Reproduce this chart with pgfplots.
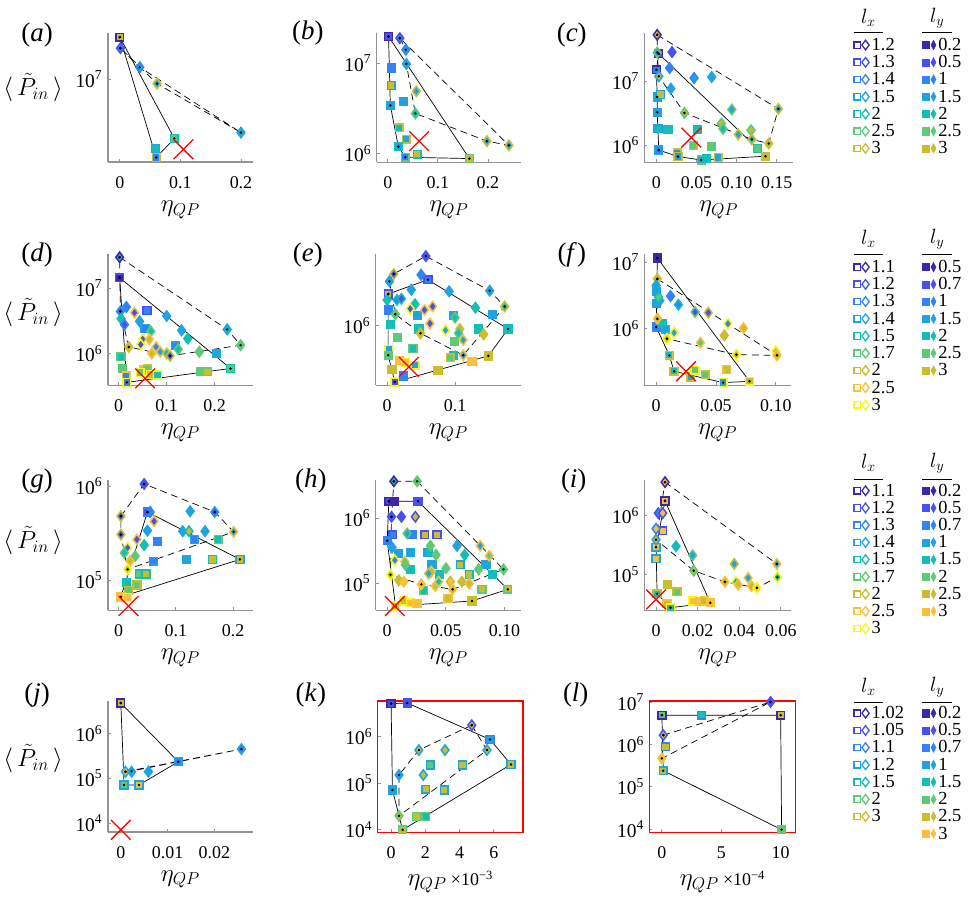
\documentclass[border=0pt]{standalone}
\usepackage{pgfplots}
\pgfplotsset{compat=1.18}
\usepackage{fontspec}
\setmainfont{Liberation Serif}

\definecolor{P1}{HTML}{3E26A8}
\definecolor{P2}{HTML}{4A50F0}
\definecolor{P3}{HTML}{3282F8}
\definecolor{P4}{HTML}{20A4E0}
\definecolor{P5}{HTML}{14BEB6}
\definecolor{P6}{HTML}{5ECA78}
\definecolor{P7}{HTML}{C8BE2E}
\definecolor{P8}{HTML}{FBC03A}
\definecolor{P9}{HTML}{F9F914}

\pgfplotsset{
  every axis/.append style={scale only axis, width=146pt, height=130pt, anchor=south west,
    clip=false, scaled x ticks=false,
    axis x line*=bottom, axis y line*=left,
    axis line style={draw=gray!85, line width=1.6pt},
    tick align=inside, major tick length=3pt, tick style={gray!85, line width=0.8pt},
    yminorticks=false, xminorticks=false,
    xticklabel style={font=\fontsize{18}{20}\selectfont, yshift=-11pt},
    yticklabel style={font=\fontsize{19.5}{21}\selectfont, xshift=-2pt},
    xlabel={$\eta_{QP}$},
    label style={font=\fontsize{26}{28}\selectfont},
    xlabel style={yshift=-5pt}},
  psq/.style={only marks, scatter, mark=square*, mark size=3.9pt, line width=1.5pt,
    visualization depends on={value \thisrow{e}\as\ecol},
    visualization depends on={value \thisrow{f}\as\fcol},
    scatter/@pre marker code/.code={\begin{scope}[draw=P\ecol,fill=P\fcol]},
    scatter/@post marker code/.code={\end{scope}}},
  pdi/.style={psq, mark=diamond*, mark size=5.2pt},
  hsolid/.style={black, line width=0.7pt, mark=*, mark size=0.9pt, mark options={solid}},
  hdash/.style={hsolid, dash pattern=on 7pt off 4.5pt},
  redx/.style={only marks, mark=x, mark size=14pt, red, line width=1.3pt},
  lximg/.style={legend image code/.code={
    \draw[#1, line width=1.3pt] (0.5pt,-3.2pt) rectangle (6.9pt,3.2pt);
    \draw[#1, line width=1.3pt] (12pt,4.8pt) -- (15.6pt,0pt) -- (12pt,-4.8pt) -- (8.4pt,0pt) -- cycle;}},
  lyimg/.style={legend image code/.code={
    \fill[#1] (0pt,-3.6pt) rectangle (7.2pt,3.6pt);
    \fill[#1] (11.2pt,4.8pt) -- (13.8pt,0pt) -- (11.2pt,-4.8pt) -- (8.6pt,0pt) -- cycle;}},
  leg/.style={hide axis, width=1pt, height=1pt,
    xmin=0, xmax=1, ymin=0, ymax=1, anchor=north west,
    legend cell align=left,
    legend style={at={(0,1)}, anchor=north west, draw=none, fill=none,
      inner sep=0pt, row sep=0pt, font=\fontsize{18.5}{20}\selectfont,
      nodes={inner xsep=2pt, inner ysep=0pt, text height=14pt, text depth=3.3pt}}},
}

\begin{document}
\begin{tikzpicture}
\path (0,0) rectangle (974pt,-910pt);

% panel letters and y labels
\foreach \t/\x/\y in {a/33/35, b/305/33, c/570/35, d/33/256, e/305/256, f/570/256,
    g/33/483, h/308/483, i/572/483, j/33/698, k/308/698, l/574/698}
  \node[font=\fontsize{27}{30}\selectfont] at (\x pt,-\y pt) {(\textit{\t})};
\foreach \y in {88, 314, 543, 762}
  \node[font=\fontsize{26}{28}\selectfont] at (29pt,-\y pt) {$\langle\,\tilde{P}_{in}\,\rangle$};

% (a)
\begin{axis}[ymode=log, at={(104pt,-163pt)},
  xmin=-0.02, xmax=0.22, ymin=2.27e6, ymax=2.27e7,
  xtick={0,0.1,0.2}, xticklabels={0,0.1,0.2},
  ytick={1e7}, yticklabels={10\textsuperscript{7}}]
\addplot[psq] table[row sep=\\] {x y e f\\
0 2.1e7 1 7\\ 0.09 3.47e6 5 6\\ 0.059 2.9e6 4 5\\ 0.06 2.47e6 7 3\\};
\addplot[pdi] table[row sep=\\] {x y e f\\
0.001 1.73e7 2 3\\ 0.033 1.23e7 3 4\\ 0.0614 9.2e6 7 4\\ 0.2 3.85e6 4 5\\};
\addplot[hsolid] coordinates {(0,2.1e7)(0.06,2.47e6)(0.09,3.47e6)(0,2.1e7)};
\addplot[hdash] coordinates {(0.001,1.73e7)(0.033,1.23e7)(0.2,3.85e6)(0.0614,9.2e6)(0.001,1.73e7)};
\addplot[redx] coordinates {(0.105,2.86e6)};
\end{axis}

% (b)
\begin{axis}[ymode=log, at={(374pt,-163pt)}, width=145pt,
  xmin=-0.0225, xmax=0.266, ymin=8.0e5, ymax=2.15e7,
  xtick={0,0.1,0.2}, xticklabels={0,0.1,0.2},
  ytick={1e6,1e7}, yticklabels={10\textsuperscript{6},10\textsuperscript{7}}]
\addplot[psq] table[row sep=\\] {x y e f\\
0.0014 1.96e7 1 2\\ 0.007 8.8e6 3 3\\ 0.007 5.64e6 4 7\\ 0.031 3.78e6 4 4\\
0.005 3.4e6 4 4\\ 0.023 1.93e6 7 5\\ 0.037 1.44e6 7 4\\ 0.021 1.19e6 5 4\\
0.035 9.1e5 6 3\\ 0.059 9.8e5 5 7\\ 0.163 8.8e5 6 7\\};
\addplot[pdi] table[row sep=\\] {x y e f\\
0.024 1.88e7 2 3\\ 0.036 1.4e7 3 4\\ 0.037 9.75e6 4 4\\ 0.057 4.88e6 7 4\\
0.055 2.77e6 6 5\\ 0.198 1.37e6 7 4\\ 0.242 1.23e6 7 4\\};
\addplot[hsolid] coordinates {(0.0014,1.96e7)(0.005,3.4e6)(0.021,1.19e6)(0.035,9.1e5)(0.163,8.8e5)(0.0014,1.96e7)};
\addplot[hdash] coordinates {(0.024,1.88e7)(0.036,1.4e7)(0.037,9.75e6)(0.055,2.77e6)(0.198,1.37e6)(0.242,1.23e6)(0.024,1.88e7)};
\addplot[redx] coordinates {(0.0625,1.37e6)};
\end{axis}

% (c)
\begin{axis}[ymode=log, at={(643pt,-163pt)}, width=149pt,
  xmin=-0.0149, xmax=0.170, ymin=5.37e5, ymax=5.77e7,
  xtick={0,0.05,0.1,0.15}, xticklabels={0,0.05,0.10,0.15},
  ytick={1e6,1e7}, yticklabels={10\textsuperscript{6},10\textsuperscript{7}}]
\addplot[psq] table[row sep=\\] {x y e f\\
0.003 2.71e7 1 2\\ 0.0 1.52e7 1 3\\ 0.001 5.7e6 4 4\\ 0.005 6.2e6 4 7\\
0.001 3.28e6 4 4\\ 0.002 1.8e6 4 5\\ 0.0145 1.76e6 5 5\\ 0.051 1.76e6 5 5\\
0.046 9.9e5 7 6\\ 0.069 9.6e5 6 6\\ 0.003 8.35e5 4 3\\ 0.026 7.6e5 7 3\\
0.027 6.6e5 7 4\\ 0.056 5.83e5 6 4\\ 0.0626 6.1e5 5 5\\ 0.077 6.36e5 7 4\\
0.126 8.8e5 5 6\\ 0.136 6.7e5 7 7\\};
\addplot[pdi] table[row sep=\\] {x y e f\\
0.001 5.37e7 1 7\\ 0.001 2.84e7 6 4\\ 0.0195 2.88e7 2 2\\ 0.0165 1.62e7 3 3\\
0.003 1.2e7 4 7\\ 0.047 1.13e7 3 4\\ 0.069 1.17e7 4 4\\ 0.018 7.7e6 4 4\\
0.035 3.2e6 6 7\\ 0.094 3.61e6 6 4\\ 0.152 3.7e6 7 4\\ 0.081 2.18e6 6 7\\
0.083 1.8e6 6 5\\ 0.102 1.47e6 7 4\\ 0.118 1.71e6 6 7\\ 0.119 1.23e6 7 5\\
0.14 1.06e6 7 7\\};
\addplot[hsolid] coordinates {(0.003,2.71e7)(0.0,1.52e7)(0.001,5.7e6)(0.001,3.28e6)(0.003,8.35e5)(0.027,6.6e5)(0.056,5.83e5)(0.136,6.7e5)(0.003,2.71e7)};
\addplot[hdash] coordinates {(0.001,5.37e7)(0.152,3.7e6)(0.14,1.06e6)(0.119,1.23e6)(0.035,3.2e6)(0.003,1.2e7)(0.001,2.84e7)(0.001,5.37e7)};
\addplot[redx] coordinates {(0.0435,1.31e6)};
\end{axis}

% (d)
\begin{axis}[ymode=log, at={(104pt,-387pt)}, height=132pt,
  xmin=-0.0228, xmax=0.28, ymin=3.26e5, ymax=3.33e7,
  xtick={0,0.1,0.2}, xticklabels={0,0.1,0.2},
  ytick={1e6,1e7}, yticklabels={10\textsuperscript{6},10\textsuperscript{7}}]
\addplot[psq] table[row sep=\\] {x y e f\\
0.002 1.44e7 2 1\\ 0.059 4.56e6 2 3\\ 0.055 2.4e6 4 3\\ 0.118 1.31e6 4 3\\
0.204 1.0e6 5 4\\ 0.005 8.9e5 6 5\\ 0.008 5.9e5 6 6\\ 0.016 4.58e5 8 3\\
0.017 3.62e5 9 3\\ 0.052 5.57e5 8 7\\ 0.060 5.77e5 7 6\\ 0.045 5.14e5 9 6\\
0.066 4.79e5 9 7\\ 0.081 4.68e5 9 5\\ 0.17 5.26e5 6 6\\ 0.185 5.26e5 6 7\\
0.233 5.91e5 5 6\\};
\addplot[pdi] table[row sep=\\] {x y e f\\
0.002 2.96e7 1 5\\ 0.016 5.14e6 3 3\\ 0.0035 4.4e6 4 2\\ 0.033 4.2e6 8 2\\
0.005 3.41e6 5 5\\ 0.012 2.76e6 3 2\\ 0.0436 3.1e6 4 4\\ 0.1 3.75e6 4 4\\
0.067 2.18e6 6 5\\ 0.131 2.26e6 4 4\\ 0.144 1.69e6 5 5\\ 0.226 2.34e6 4 5\\
0.254 1.34e6 6 6\\ 0.05 1.65e6 9 2\\ 0.046 1.37e6 9 2\\ 0.064 1.65e6 8 7\\
0.078 1.26e6 8 3\\ 0.021 1.26e6 7 7\\ 0.069 1.0e6 8 7\\ 0.0865 1.06e6 8 4\\
0.1 1.0e6 7 5\\ 0.107 9.2e5 7 2\\ 0.124 1.16e6 6 5\\ 0.168 1.06e6 6 6\\};
\addplot[hsolid] coordinates {(0.002,1.44e7)(0.017,3.62e5)(0.233,5.91e5)(0.002,1.44e7)};
\addplot[hdash] coordinates {(0.002,2.96e7)(0.226,2.34e6)(0.254,1.34e6)(0.107,9.2e5)(0.021,1.26e6)(0.0035,4.4e6)(0.002,2.96e7)};
\addplot[redx] coordinates {(0.055,4.16e5)};
\end{axis}

% (e)
\begin{axis}[ymode=log, at={(373pt,-387pt)}, height=132pt,
  xmin=-0.017, xmax=0.197, ymin=2.55e5, ymax=5.16e6,
  xtick={0,0.1}, xticklabels={0,0.1},
  ytick={1e6}, yticklabels={10\textsuperscript{6}}]
\addplot[psq] table[row sep=\\] {x y e f\\
0.060 2.86e6 2 3\\ 0.0015 2.06e6 2 7\\ 0.0015 1.43e6 3 3\\ 0.045 1.26e6 4 4\\
0.098 1.26e6 4 4\\ 0.155 1.28e6 4 4\\ 0.005 1.03e6 5 5\\ 0.047 9.25e5 5 5\\
0.134 9.25e5 5 5\\ 0.178 9.25e5 5 5\\ 0.015 7.64e5 6 6\\ 0.099 7.0e5 6 6\\
0.038 5.93e5 6 5\\ 0.0025 5.83e5 9 4\\ 0.0015 5.08e5 6 6\\ 0.098 5.08e5 5 5\\
0.093 4.79e5 7 6\\ 0.149 5.0e5 7 7\\ 0.125 4.43e5 8 8\\ 0.018 4.53e5 8 8\\
0.027 4.3e5 9 8\\ 0.041 4.04e5 9 4\\ 0.0073 3.68e5 7 7\\ 0.075 3.6e5 7 7\\
0.0245 3.16e5 3 3\\ 0.0113 2.75e5 9 2\\};
\addplot[pdi] table[row sep=\\] {x y e f\\
0.057 4.9e6 2 2\\ 0.0098 3.26e6 7 2\\ 0.0034 2.75e6 4 4\\ 0.050 3.2e6 3 3\\
0.0356 2.27e6 4 4\\ 0.0912 2.19e6 4 4\\ 0.151 2.22e6 4 4\\ 0.0 1.8e6 5 5\\
0.0146 1.8e6 5 3\\ 0.021 1.85e6 5 2\\ 0.041 1.63e6 5 5\\ 0.034 1.47e6 9 2\\
0.055 1.43e6 8 2\\ 0.067 1.55e6 8 2\\ 0.130 1.51e6 5 5\\ 0.173 1.55e6 7 5\\
0.012 1.3e6 6 6\\ 0.1 1.2e6 6 5\\ 0.063 1.05e6 8 2\\ 0.049 8.4e5 7 7\\
0.086 9.0e5 9 4\\ 0.107 9.25e5 7 7\\ 0.105 8.4e5 6 5\\ 0.112 7.2e5 8 4\\
0.142 8.2e5 7 7\\ 0.112 5.08e5 8 4\\};
\addplot[hsolid] coordinates {(0.0015,2.06e6)(0.060,2.86e6)(0.178,9.25e5)(0.149,5.0e5)(0.0113,2.75e5)(0.0015,5.08e5)(0.0015,2.06e6)};
\addplot[hdash] coordinates {(0.0034,2.75e6)(0.0098,3.26e6)(0.057,4.9e6)(0.151,2.22e6)(0.173,1.55e6)(0.112,5.08e5)(0.049,8.4e5)(0.012,1.3e6)(0.0034,2.75e6)};
\addplot[redx] coordinates {(0.032,3.89e5)};
\end{axis}

% (f)
\begin{axis}[ymode=log, at={(643pt,-387pt)}, height=132pt, width=147pt,
  xmin=-0.0098, xmax=0.1125, ymin=1.41e5, ymax=1.33e7,
  xtick={0,0.05,0.1}, xticklabels={0,0.05,0.10},
  ytick={1e6,1e7}, yticklabels={10\textsuperscript{6},10\textsuperscript{7}}]
\addplot[psq] table[row sep=\\] {x y e f\\
0.001 1.15e7 1 1\\ 0.0 3.62e6 4 4\\ 0.0 2.37e6 4 4\\ 0.0 1.06e6 3 3\\
0.005 1.19e6 5 5\\ 0.008 9.77e5 5 4\\ 0.011 3.98e5 7 5\\ 0.015 2.29e5 7 5\\
0.029 1.89e5 7 4\\ 0.0325 2.37e5 9 6\\ 0.041 2.04e5 7 6\\ 0.059 2.43e5 8 7\\
0.056 1.55e5 9 4\\ 0.078 1.62e5 9 7\\};
\addplot[pdi] table[row sep=\\] {x y e f\\
0.001 5.62e6 7 7\\ 0.0 4.46e6 4 4\\ 0.003 2.65e6 4 4\\ 0.002 2.98e6 5 6\\
0.012 3.09e6 3 3\\ 0.0186 2.29e6 5 3\\ 0.0325 1.78e6 6 2\\ 0.0436 1.74e6 7 2\\
0.001 1.41e6 8 7\\ 0.015 8.7e5 9 4\\ 0.009 7.08e5 9 7\\ 0.037 6.17e5 8 6\\
0.06 1.19e6 9 3\\ 0.057 7.94e5 7 7\\ 0.073 1.02e6 8 7\\ 0.067 4.07e5 9 7\\
0.1 4.57e5 9 7\\ 0.101 3.98e5 8 7\\};
\addplot[hsolid] coordinates {(0.001,1.15e7)(0.0,1.06e6)(0.011,3.98e5)(0.015,2.29e5)(0.056,1.55e5)(0.078,1.62e5)(0.001,1.15e7)};
\addplot[hdash] coordinates {(0.001,5.62e6)(0.101,3.98e5)(0.067,4.07e5)(0.009,7.08e5)(0.001,1.41e6)(0.001,5.62e6)};
\addplot[redx] coordinates {(0.025,2.29e5)};
\end{axis}

% (g)
\begin{axis}[ymode=log, at={(104pt,-613pt)}, height=131pt,
  xmin=-0.019, xmax=0.235, ymin=4.79e4, ymax=1.17e6,
  xtick={0,0.1,0.2}, xticklabels={0,0.1,0.2},
  ytick={1e5,1e6}, yticklabels={10\textsuperscript{5},10\textsuperscript{6}}]
\addplot[psq] table[row sep=\\] {x y e f\\
0.0504 5.33e5 3 2\\ 0.132 2.72e5 4 3\\ 0.174 2.72e5 6 5\\ 0.068 2.57e5 3 3\\
0.061 1.6e5 4 3\\ 0.118 1.67e5 4 4\\ 0.164 1.67e5 5 7\\ 0.212 1.67e5 4 7\\
0.0365 1.17e5 5 6\\ 0.048 1.17e5 5 7\\ 0.0134 9.4e4 5 5\\ 0.032 8.9e4 7 6\\
0.0174 7.8e4 7 6\\ 0.004 6.66e4 8 8\\ 0.0157 6.55e4 9 8\\};
\addplot[pdi] table[row sep=\\] {x y e f\\
0.0447 1.06e6 2 2\\ 0.004 4.81e5 7 2\\ 0.004 3.07e5 7 2\\ 0.055 5.33e5 3 3\\
0.062 4.25e5 8 2\\ 0.0504 3.38e5 4 4\\ 0.125 5.43e5 4 4\\ 0.168 5.33e5 4 2\\
0.112 3.33e5 4 4\\ 0.123 3.33e5 5 7\\ 0.151 3.33e5 4 4\\ 0.201 3.28e5 8 4\\
0.032 2.72e5 8 2\\ 0.0447 2.37e5 5 5\\ 0.0157 2.22e5 9 2\\ 0.01 1.96e5 6 5\\
0.029 1.81e5 6 6\\ 0.02 1.6e5 8 7\\ 0.0157 1.31e5 9 7\\};
\addplot[hsolid] coordinates {(0.0504,5.33e5)(0.212,1.67e5)(0.004,6.66e4)(0.0504,5.33e5)};
\addplot[hdash] coordinates {(0.004,4.81e5)(0.0447,1.06e6)(0.168,5.33e5)(0.201,3.28e5)(0.0157,1.31e5)(0.004,3.07e5)(0.004,4.81e5)};
\addplot[redx] coordinates {(0.0174,5.33e4)};
\end{axis}

% (h)
\begin{axis}[ymode=log, at={(373pt,-613pt)}, height=131pt,
  xmin=-0.0099, xmax=0.114, ymin=3.85e4, ymax=3.85e6,
  xtick={0,0.05,0.1}, xticklabels={0,0.05,0.10},
  ytick={1e5,1e6}, yticklabels={10\textsuperscript{5},10\textsuperscript{6}}]
\addplot[psq] table[row sep=\\] {x y e f\\
0.0014 1.81e6 1 2\\ 0.0057 1.81e6 1 1\\ 0.0263 1.81e6 2 2\\ 0.0048 5.56e5 2 3\\
0.0212 5.56e5 3 3\\ 0.032 5.56e5 2 7\\ 0.0425 5.56e5 2 7\\ 0.0 4.49e5 3 3\\
0.0099 2.86e5 4 4\\ 0.0198 2.97e5 4 4\\ 0.0348 2.97e5 4 5\\ 0.0382 1.92e5 4 4\\
0.0623 1.92e5 4 7\\ 0.0841 1.92e5 4 4\\ 0.0198 1.64e5 5 5\\ 0.0444 1.35e5 5 5\\
0.0699 1.37e5 5 7\\ 0.0898 1.35e5 5 5\\ 0.0312 7.8e4 6 5\\ 0.0807 8.09e4 6 7\\
0.1028 8.09e4 6 7\\ 0.0518 5.87e4 8 7\\ 0.0722 5.36e4 7 7\\ 0.0142 5.36e4 9 7\\
0.0198 5.05e4 9 8\\ 0.0255 4.87e4 8 8\\ 0.0071 4.49e4 9 7\\};
\addplot[pdi] table[row sep=\\] {x y e f\\
0.0057 3.67e6 1 5\\ 0.0255 3.67e6 6 6\\ 0.0037 1.05e6 2 2\\ 0.0121 1.05e6 2 2\\
0.024 1.05e6 2 7\\ 0.017 5.82e5 6 4\\ 0.0042 3.54e5 4 4\\ 0.0368 3.76e5 6 6\\
0.0595 3.76e5 4 4\\ 0.0793 3.76e5 8 4\\ 0.0416 2.73e5 6 6\\ 0.066 2.73e5 5 5\\
0.087 2.64e5 8 6\\ 0.0065 2.26e5 9 3\\ 0.015 2.16e5 8 6\\ 0.0155 1.92e5 6 6\\
0.0501 1.7e5 6 6\\ 0.0779 1.64e5 6 6\\ 0.0991 1.64e5 6 6\\ 0.0376 1.51e5 8 7\\
0.0354 1.41e5 7 4\\ 0.0028 1.35e5 9 7\\ 0.0099 1.11e5 7 7\\ 0.0142 1.06e5 8 8\\
0.0291 9.66e4 8 8\\ 0.041 9.12e4 8 7\\ 0.0439 1.06e5 8 5\\ 0.0538 1.06e5 7 8\\
0.0558 8.09e4 8 7\\ 0.0637 1.06e5 7 7\\ 0.0699 9.89e4 8 7\\};
\addplot[hsolid] coordinates {(0.0014,1.81e6)(0.0263,1.81e6)(0.1028,8.09e4)(0.0722,5.36e4)(0.0071,4.49e4)(0.0,4.49e5)(0.0014,1.81e6)};
\addplot[hdash] coordinates {(0.0057,3.67e6)(0.0255,3.67e6)(0.0991,1.64e5)(0.0558,8.09e4)(0.0291,9.66e4)(0.0028,1.35e5)(0.0037,1.05e6)(0.0057,3.67e6)};
\addplot[redx] coordinates {(0.0065,4.49e4)};
\end{axis}

% (i)
\begin{axis}[ymode=log, at={(643pt,-613pt)}, height=131pt, width=147pt,
  xmin=-0.0056, xmax=0.0648, ymin=2.47e4, ymax=3.98e6,
  xtick={0,0.02,0.04,0.06}, xticklabels={0,0.02,0.04,0.06},
  ytick={1e5,1e6}, yticklabels={10\textsuperscript{5},10\textsuperscript{6}}]
\addplot[psq] table[row sep=\\] {x y e f\\
0.0043 1.76e6 1 8\\ 0.0032 5.5e5 2 8\\ 0.0 2.89e5 4 8\\ 0.0 1.85e5 4 8\\
0.0056 6.76e4 7 7\\ 0.0101 5.09e4 7 6\\ 0.0005 4.71e4 7 5\\ 0.0053 3.19e4 8 7\\
0.0069 2.74e4 9 5\\ 0.0176 3.55e4 9 8\\ 0.0208 3.45e4 8 8\\ 0.0232 3.55e4 8 7\\
0.0261 3.32e4 8 8\\};
\addplot[pdi] table[row sep=\\] {x y e f\\
0.0043 3.65e6 1 8\\ 0.0011 1.09e6 2 3\\ 0.0032 1.09e6 2 8\\ 0.0 5.94e5 3 8\\
0.0 3.88e5 4 7\\ 0.0096 3.0e5 5 5\\ 0.0176 2.11e5 6 4\\ 0.0376 1.51e5 7 4\\
0.0581 1.51e5 8 4\\ 0.0181 1.16e5 6 7\\ 0.0584 9.0e4 9 5\\ 0.0331 7.5e4 8 7\\
0.0384 7.5e4 9 4\\ 0.0395 6.76e4 8 7\\ 0.0443 8.77e4 8 4\\ 0.0459 6.35e4 8 7\\
0.0485 5.94e4 9 8\\};
\addplot[hsolid] coordinates {(0.0043,1.76e6)(0.0261,3.32e4)(0.0069,2.74e4)(0.0005,4.71e4)(0.0,2.89e5)(0.0043,1.76e6)};
\addplot[hdash] coordinates {(0.0043,3.65e6)(0.0581,1.51e5)(0.0584,9.0e4)(0.0485,5.94e4)(0.0331,7.5e4)(0.0181,1.16e5)(0.0,3.88e5)(0.0043,3.65e6)};
\addplot[redx] coordinates {(0.0,3.78e4)};
\end{axis}

% (j)
\begin{axis}[ymode=log, at={(104pt,-835.7pt)}, height=131.7pt,
  xmin=-0.0028, xmax=0.0283, ymin=6.3e3, ymax=5.34e6,
  xtick={0,0.01,0.02}, xticklabels={0,0.01,0.02},
  ytick={1e4,1e5,1e6}, yticklabels={10\textsuperscript{4},10\textsuperscript{5},10\textsuperscript{6}}]
\addplot[psq] table[row sep=\\] {x y e f\\
0 4.8e6 1 7\\ 0.0123 2.35e5 4 3\\ 0.0007 7.1e4 4 6\\ 0.0039 7.1e4 4 8\\};
\addplot[pdi] table[row sep=\\] {x y e f\\
0.0258 4.5e5 4 3\\ 0.001 1.41e5 4 8\\ 0.0023 1.41e5 4 4\\ 0.0059 1.41e5 4 4\\};
\addplot[hsolid] coordinates {(0,4.8e6)(0.0123,2.35e5)(0.0039,7.1e4)(0.0007,7.1e4)(0,4.8e6)};
\addplot[hdash] coordinates {(0.001,1.41e5)(0.0258,4.5e5)(0.0023,1.45e5)(0.001,1.41e5)};
\addplot[redx] coordinates {(0,7.1e3)};
\end{axis}

% (k)
\begin{axis}[ymode=log, at={(375pt,-836pt)}, height=132pt,
  xmin=-0.00079, xmax=0.0077, ymin=8.8e3, ymax=5.9e6,
  xtick={0,0.002,0.004,0.006}, xticklabels={0,2,4,6},
  ytick={1e4,1e5,1e6}, yticklabels={10\textsuperscript{4},10\textsuperscript{5},10\textsuperscript{6}},
  xlabel={$\eta_{QP}$\,{\fontsize{18}{20}\selectfont ×10\textsuperscript{−3}}}]
\addplot[psq] table[row sep=\\] {x y e f\\
0 5.16e6 1 2\\ 0.00094 5.35e6 2 2\\ 0.00578 8.75e5 3 4\\ 0.007 2.55e5 4 7\\
0.00229 2.48e5 4 6\\ 0.00417 2.48e5 4 7\\ 0.00008 7.2e4 4 4\\ 0.00202 7.44e4 4 7\\
0.0031 7.2e4 4 7\\ 0.00148 1.94e4 6 7\\ 0.00202 1.94e4 6 5\\ 0.00067 1.0e4 6 7\\};
\addplot[pdi] table[row sep=\\] {x y e f\\
0.00471 1.78e6 2 7\\ 0.00162 5.19e5 4 7\\ 0.00315 5.19e5 4 7\\ 0.0056 5.19e5 4 7\\
0.00046 1.51e5 4 4\\ 0.00188 1.51e5 4 7\\ 0.00046 2.0e4 6 7\\};
\addplot[hsolid] coordinates {(0,5.16e6)(0.00094,5.35e6)(0.00578,8.75e5)(0.007,2.55e5)(0.00067,1.0e4)(0.00008,7.2e4)(0,5.16e6)};
\addplot[hdash] coordinates {(0.00471,1.78e6)(0.0056,5.19e5)(0.00046,2.0e4)(0.00046,1.51e5)(0.00162,5.19e5)(0.00471,1.78e6)};
\draw[red, line width=1.4pt] (rel axis cs:0,0) rectangle (rel axis cs:1,1);
\end{axis}

% (l)
\begin{axis}[ymode=log, at={(648pt,-836pt)}, height=132pt, width=146.6pt,
  xmin=-0.000105, xmax=0.001124, ymin=8.36e3, ymax=1.055e7,
  xtick={0,0.0005,0.001}, xticklabels={0,5,10},
  ytick={1e4,1e5,1e6,1e7}, yticklabels={10\textsuperscript{4},10\textsuperscript{5},10\textsuperscript{6},10\textsuperscript{7}},
  xlabel={$\eta_{QP}$\,{\fontsize{18}{20}\selectfont ×10\textsuperscript{−4}}}]
\addplot[psq] table[row sep=\\] {x y e f\\
0 4.87e6 1 6\\ 0.000333 4.87e6 3 5\\ 0.001 4.87e6 1 7\\ 0.000031 8.8e5 3 7\\
0.000012 2.39e5 4 7\\ 0.001008 9.7e3 6 6\\};
\addplot[pdi] table[row sep=\\] {x y e f\\
0.000915 1.0e7 2 2\\ 0.000012 1.65e6 2 7\\ 0.0 4.66e5 8 8\\};
\addplot[hsolid] coordinates {(0,4.87e6)(0.001,4.87e6)(0.001008,9.7e3)(0.000012,2.39e5)(0,4.87e6)};
\addplot[hdash] coordinates {(0.000012,1.65e6)(0.000915,1.0e7)(0.0,4.66e5)(0.000012,1.65e6)};
\draw[red, line width=1.4pt] (rel axis cs:0,0) rectangle (rel axis cs:1,1);
\end{axis}

% legend headers
\foreach \y in {18, 240, 465, 690}
  \node[font=\fontsize{22}{24}\selectfont] at (868pt,-\y pt) {$l_x$};
\foreach \y in {18, 240, 465, 690}
  \node[font=\fontsize{22}{24}\selectfont] at (937pt,-\y pt) {$l_y$};
\foreach \y in {33, 255.7, 481.7, 705} {
  \draw[line width=0.8pt] (853pt,-\y pt) -- (883pt,-\y pt);
  \draw[line width=0.8pt] (922pt,-\y pt) -- (952pt,-\y pt);
}

\begin{axis}[leg, at={(852.7pt,-36.4pt)}]
\addlegendimage{lximg=P1}\addlegendentry{1.2}
\addlegendimage{lximg=P2}\addlegendentry{1.3}
\addlegendimage{lximg=P3}\addlegendentry{1.4}
\addlegendimage{lximg=P4}\addlegendentry{1.5}
\addlegendimage{lximg=P5}\addlegendentry{2}
\addlegendimage{lximg=P6}\addlegendentry{2.5}
\addlegendimage{lximg=P7}\addlegendentry{3}
\end{axis}
\begin{axis}[leg, at={(921.7pt,-36.4pt)}]
\addlegendimage{lyimg=P1}\addlegendentry{0.2}
\addlegendimage{lyimg=P2}\addlegendentry{0.5}
\addlegendimage{lyimg=P3}\addlegendentry{1}
\addlegendimage{lyimg=P4}\addlegendentry{1.5}
\addlegendimage{lyimg=P5}\addlegendentry{2}
\addlegendimage{lyimg=P6}\addlegendentry{2.5}
\addlegendimage{lyimg=P7}\addlegendentry{3}
\end{axis}

\begin{axis}[leg, at={(852.7pt,-259.4pt)}]
\addlegendimage{lximg=P1}\addlegendentry{1.1}
\addlegendimage{lximg=P2}\addlegendentry{1.2}
\addlegendimage{lximg=P3}\addlegendentry{1.3}
\addlegendimage{lximg=P4}\addlegendentry{1.4}
\addlegendimage{lximg=P5}\addlegendentry{1.5}
\addlegendimage{lximg=P6}\addlegendentry{1.7}
\addlegendimage{lximg=P7}\addlegendentry{2}
\addlegendimage{lximg=P8}\addlegendentry{2.5}
\addlegendimage{lximg=P9}\addlegendentry{3}
\end{axis}
\begin{axis}[leg, at={(921.7pt,-259.4pt)}]
\addlegendimage{lyimg=P1}\addlegendentry{0.5}
\addlegendimage{lyimg=P2}\addlegendentry{0.7}
\addlegendimage{lyimg=P3}\addlegendentry{1}
\addlegendimage{lyimg=P4}\addlegendentry{1.5}
\addlegendimage{lyimg=P5}\addlegendentry{2}
\addlegendimage{lyimg=P6}\addlegendentry{2.5}
\addlegendimage{lyimg=P7}\addlegendentry{3}
\end{axis}

\begin{axis}[leg, at={(852.7pt,-484pt)}]
\addlegendimage{lximg=P1}\addlegendentry{1.1}
\addlegendimage{lximg=P2}\addlegendentry{1.2}
\addlegendimage{lximg=P3}\addlegendentry{1.3}
\addlegendimage{lximg=P4}\addlegendentry{1.4}
\addlegendimage{lximg=P5}\addlegendentry{1.5}
\addlegendimage{lximg=P6}\addlegendentry{1.7}
\addlegendimage{lximg=P7}\addlegendentry{2}
\addlegendimage{lximg=P8}\addlegendentry{2.5}
\addlegendimage{lximg=P9}\addlegendentry{3}
\end{axis}
\begin{axis}[leg, at={(921.7pt,-484pt)}]
\addlegendimage{lyimg=P1}\addlegendentry{0.2}
\addlegendimage{lyimg=P2}\addlegendentry{0.5}
\addlegendimage{lyimg=P3}\addlegendentry{0.7}
\addlegendimage{lyimg=P4}\addlegendentry{1}
\addlegendimage{lyimg=P5}\addlegendentry{1.5}
\addlegendimage{lyimg=P6}\addlegendentry{2}
\addlegendimage{lyimg=P7}\addlegendentry{2.5}
\addlegendimage{lyimg=P8}\addlegendentry{3}
\end{axis}

\begin{axis}[leg, at={(852.7pt,-707.4pt)}]
\addlegendimage{lximg=P1}\addlegendentry{1.02}
\addlegendimage{lximg=P2}\addlegendentry{1.05}
\addlegendimage{lximg=P3}\addlegendentry{1.1}
\addlegendimage{lximg=P4}\addlegendentry{1.2}
\addlegendimage{lximg=P5}\addlegendentry{1.5}
\addlegendimage{lximg=P6}\addlegendentry{2}
\addlegendimage{lximg=P7}\addlegendentry{3}
\end{axis}
\begin{axis}[leg, at={(921.7pt,-707.4pt)}]
\addlegendimage{lyimg=P1}\addlegendentry{0.2}
\addlegendimage{lyimg=P2}\addlegendentry{0.5}
\addlegendimage{lyimg=P3}\addlegendentry{0.7}
\addlegendimage{lyimg=P4}\addlegendentry{1}
\addlegendimage{lyimg=P5}\addlegendentry{1.5}
\addlegendimage{lyimg=P6}\addlegendentry{2}
\addlegendimage{lyimg=P7}\addlegendentry{2.5}
\addlegendimage{lyimg=P8}\addlegendentry{3}
\end{axis}
\end{tikzpicture}
\end{document}
